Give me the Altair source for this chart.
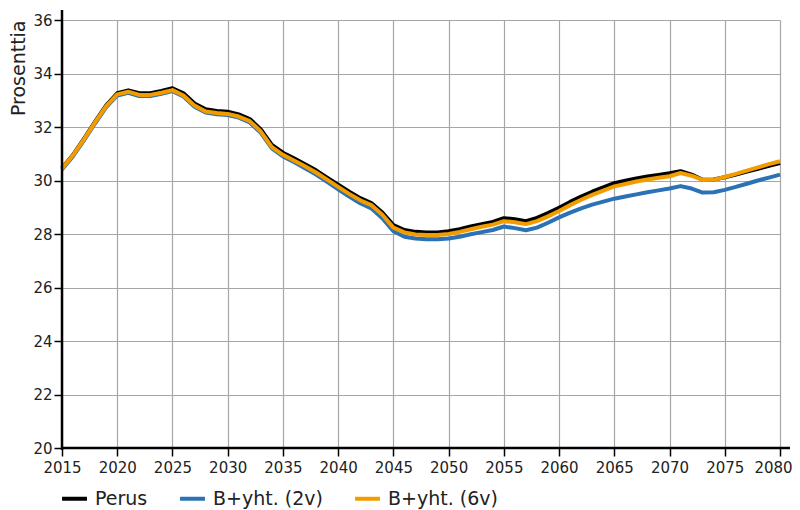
import altair as alt
import pandas as pd

years = list(range(2015, 2081))

perus = [30.46, 30.96, 31.57, 32.20, 32.81, 33.26, 33.37, 33.26, 33.26, 33.35,
         33.45, 33.26, 32.88, 32.66, 32.60, 32.57, 32.47, 32.30, 31.91, 31.33,
         31.04, 30.83, 30.61, 30.38, 30.11, 29.84, 29.58, 29.34, 29.16, 28.80,
         28.33, 28.15, 28.08, 28.06, 28.06, 28.10, 28.18, 28.28, 28.37, 28.45,
         28.59, 28.55, 28.48, 28.60, 28.78, 28.98, 29.20, 29.40, 29.58, 29.74,
         29.90, 29.99, 30.08, 30.15, 30.21, 30.27, 30.35, 30.22, 30.03, 30.04,
         30.12, 30.22, 30.33, 30.44, 30.55, 30.65]

b2v = [30.41, 30.91, 31.51, 32.14, 32.74, 33.18, 33.28, 33.16, 33.16, 33.24,
       33.34, 33.14, 32.76, 32.54, 32.48, 32.45, 32.35, 32.17, 31.78, 31.20,
       30.90, 30.69, 30.46, 30.22, 29.95, 29.67, 29.40, 29.15, 28.96, 28.59,
       28.10, 27.90, 27.83, 27.80, 27.80, 27.83, 27.90, 27.99, 28.07, 28.15,
       28.28, 28.22, 28.14, 28.24, 28.42, 28.62, 28.80, 28.96, 29.10, 29.21,
       29.32, 29.40, 29.48, 29.56, 29.63, 29.70, 29.79, 29.70, 29.55, 29.56,
       29.65, 29.76, 29.88, 30.00, 30.11, 30.22]

b6v = [30.45, 30.95, 31.55, 32.18, 32.78, 33.22, 33.32, 33.20, 33.20, 33.28,
       33.38, 33.18, 32.80, 32.58, 32.52, 32.49, 32.39, 32.22, 31.83, 31.25,
       30.96, 30.75, 30.53, 30.30, 30.03, 29.76, 29.50, 29.26, 29.08, 28.72,
       28.24, 28.06, 27.98, 27.96, 27.96, 28.00, 28.08, 28.18, 28.27, 28.35,
       28.48, 28.44, 28.37, 28.48, 28.66, 28.86, 29.08, 29.28, 29.46, 29.62,
       29.78, 29.87, 29.96, 30.04, 30.10, 30.16, 30.28, 30.18, 30.02, 30.03,
       30.13, 30.25, 30.37, 30.49, 30.61, 30.72]

series_names = ["Perus", "B+yht. (2v)", "B+yht. (6v)"]
series_colors = ["#000000", "#2a72b5", "#f39c00"]
x_ticks = list(range(2015, 2081, 5))
y_ticks = list(range(20, 37, 2))

rows = []
for name, vals in zip(series_names, [perus, b2v, b6v]):
    for y, v in zip(years, vals):
        rows.append({"year": y, "value": v, "series": name})
df = pd.DataFrame(rows)

W, H = 718, 428

x_enc = alt.X("year:Q",
              scale=alt.Scale(domain=[2015, 2080], nice=False, zero=False),
              axis=alt.Axis(values=x_ticks, format="d", title=None, domain=False,
                            tickSize=8, tickColor="#000", tickWidth=1.5,
                            labelFontSize=15, labelColor="#222", labelPadding=4,
                            labelFont="DejaVu Sans", labelOverlap=False,
                            labelFlush=False, labelBound=False,
                            labelOffset={"expr": "datum.value == 2080 ? -7 : 0"},
                            gridColor="#a6a6a6", gridWidth=1.2))
y_enc = alt.Y("value:Q",
              scale=alt.Scale(domain=[20, 36], nice=False, zero=False),
              axis=alt.Axis(values=y_ticks, title="Prosenttia", domain=False,
                            tickSize=8, tickColor="#000", tickWidth=1.5,
                            labelFontSize=15, labelColor="#222", labelPadding=2,
                            labelFont="DejaVu Sans", labelOverlap=False,
                            labelFlush=False, labelBound=False,
                            titleFontSize=19, titleFont="DejaVu Sans",
                            titleFontWeight="normal", titleColor="#222",
                            titleAngle=270, titleX=-44, titleY=0,
                            titleAlign="right", titleBaseline="middle",
                            gridColor="#a6a6a6", gridWidth=1.2))
color_enc = alt.Color("series:N",
                      scale=alt.Scale(domain=series_names, range=series_colors),
                      legend=alt.Legend(title=None, orient="none", direction="horizontal",
                                        legendX=-2, legendY=464, padding=0,
                                        symbolType="stroke", symbolStrokeWidth=4,
                                        symbolSize=620, labelFontSize=19,
                                        labelFont="DejaVu Sans", labelColor="#222",
                                        labelOffset=6, columnPadding=24))

layers = []
for name in series_names:
    layers.append(
        alt.Chart(df).transform_filter(alt.datum.series == name)
        .mark_line(strokeWidth=4, strokeJoin="round")
        .encode(x=x_enc, y=y_enc, color=color_enc)
    )

one = pd.DataFrame({"a": [0]})
yaxis_line = alt.Chart(one).mark_rule(color="#000", strokeWidth=2.5).encode(
    x=alt.value(0), y=alt.value(-10), y2=alt.value(H + 2))
xaxis_line = alt.Chart(one).mark_rule(color="#000", strokeWidth=2.5).encode(
    y=alt.value(H), x=alt.value(-1), x2=alt.value(W + 10))

chart = alt.layer(*layers, yaxis_line, xaxis_line).properties(
    width=W, height=H,
    autosize=alt.AutoSizeParams(type="none"),
    padding={"left": 54, "top": 12, "right": 12, "bottom": 70},
    background="white",
).configure_view(stroke=None)

chart.save("out.html", embed_options={"renderer": "svg", "actions": False})
